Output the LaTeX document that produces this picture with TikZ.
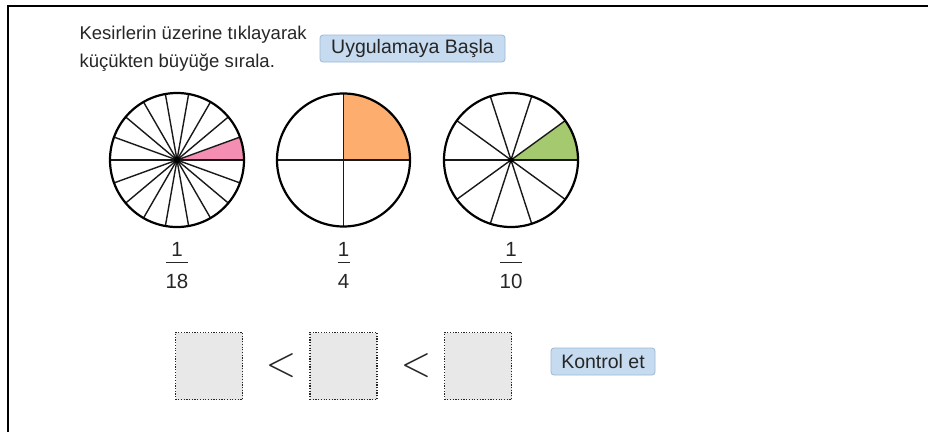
\documentclass[tikz,border=0pt]{standalone}
\usepackage{fontspec}
\setmainfont{Liberation Sans}
\begin{document}
\begin{tikzpicture}[x=1pt,y=-1pt,
  btn/.style={draw=btnedge, fill=btnfill, rounded corners=3pt, line width=0.8pt,
    inner sep=0pt, font=\fontsize{19.5}{22}\selectfont, text=black!85},
  slot/.style={draw=black!85, fill=slotgray, dash pattern=on 1.2pt off 1.5pt, line width=1.4pt,
    minimum width=67pt, minimum height=67pt, inner sep=0pt},
  rim/.style={line width=2.2pt, draw=black},
  spoke/.style={line width=1.4pt, draw=black!90},
  num/.style={font=\fontsize{20.5}{22}\selectfont, text=black!85, inner sep=0pt},
  bar/.style={line width=0.8pt, draw=black!85},
  less/.style={font=\fontsize{24}{24}\selectfont, text=black!85, inner sep=0pt,
    xscale=1.6, yscale=1.75},
  instr/.style={anchor=west, font=\fontsize{18.5}{20}\selectfont, text=black!85}]
\definecolor{btnfill}{HTML}{C6DAF0}
\definecolor{btnedge}{HTML}{9EB8D8}
\definecolor{slotgray}{HTML}{E8E8E8}
\definecolor{pinkslice}{HTML}{F58EB3}
\definecolor{orangeslice}{HTML}{FDAE6E}
\definecolor{greenslice}{HTML}{A5C96E}
\useasboundingbox (0,0) rectangle (928,432);
\fill[white] (0,0) rectangle (928,432);
% outer frame: left and top edges
\draw[line width=2pt] (8,432) -- (8,6) -- (928,6);

% instructions
\node[instr] (t1) at (76,35) {Kesirlerin üzerine tıklayarak};
\node[instr] (t2) at (76,63) {küçükten büyüğe sırala.};
\node[btn, minimum width=185pt, minimum height=27pt] (start) at (412.5,48.5) {Uygulamaya Başla};

% circle 1: eighteenths (y axis points down, so angles are negated)
\coordinate (c1) at (177,160);
\fill[pinkslice] (c1) -- ++(0:67) arc[start angle=0, end angle=-20, radius=67] -- cycle;
\foreach \a in {0,20,...,340} \draw[spoke] (c1) -- ++(\a:67);
\fill (c1) circle (3.2);
\draw[rim] (c1) circle (67);
% circle 2: quarters
\coordinate (c2) at (343.5,160);
\fill[orangeslice] (c2) -- ++(0:66.5) arc[start angle=0, end angle=-90, radius=66.5] -- cycle;
\foreach \a in {0,90,180,270} \draw[spoke] (c2) -- ++(\a:66.5);
\draw[rim] (c2) circle (66.5);
% circle 3: tenths
\coordinate (c3) at (511,160);
\fill[greenslice] (c3) -- ++(0:67) arc[start angle=0, end angle=-36, radius=67] -- cycle;
\foreach \a in {0,36,...,324} \draw[spoke] (c3) -- ++(\a:67);
\fill (c3) circle (2.6);
\draw[rim] (c3) circle (67);

% fraction labels: numerator, bar, denominator
\node[num] (n1) at (177,249) {1};
\node[num] (d1) at (177,281) {18};
\draw[bar] (166,262.5) -- (188,262.5);
\node[num] (n2) at (343.5,249) {1};
\node[num] (d2) at (343.5,281) {4};
\draw[bar] (337.5,262.5) -- (349.5,262.5);
\node[num] (n3) at (511,249) {1};
\node[num] (d3) at (511,281) {10};
\draw[bar] (500,262.5) -- (522,262.5);

% answer slots
\node[slot] (s1) at (209,366) {};
\node[slot] (s2) at (343.5,366) {};
\node[slot] (s3) at (478,366) {};
\node[less] (l1) at (281,366) {$<$};
\node[less] (l2) at (416,366) {$<$};
\node[btn, minimum width=104pt, minimum height=27pt] (check) at (603,361.5) {Kontrol et};
\end{tikzpicture}
\end{document}
